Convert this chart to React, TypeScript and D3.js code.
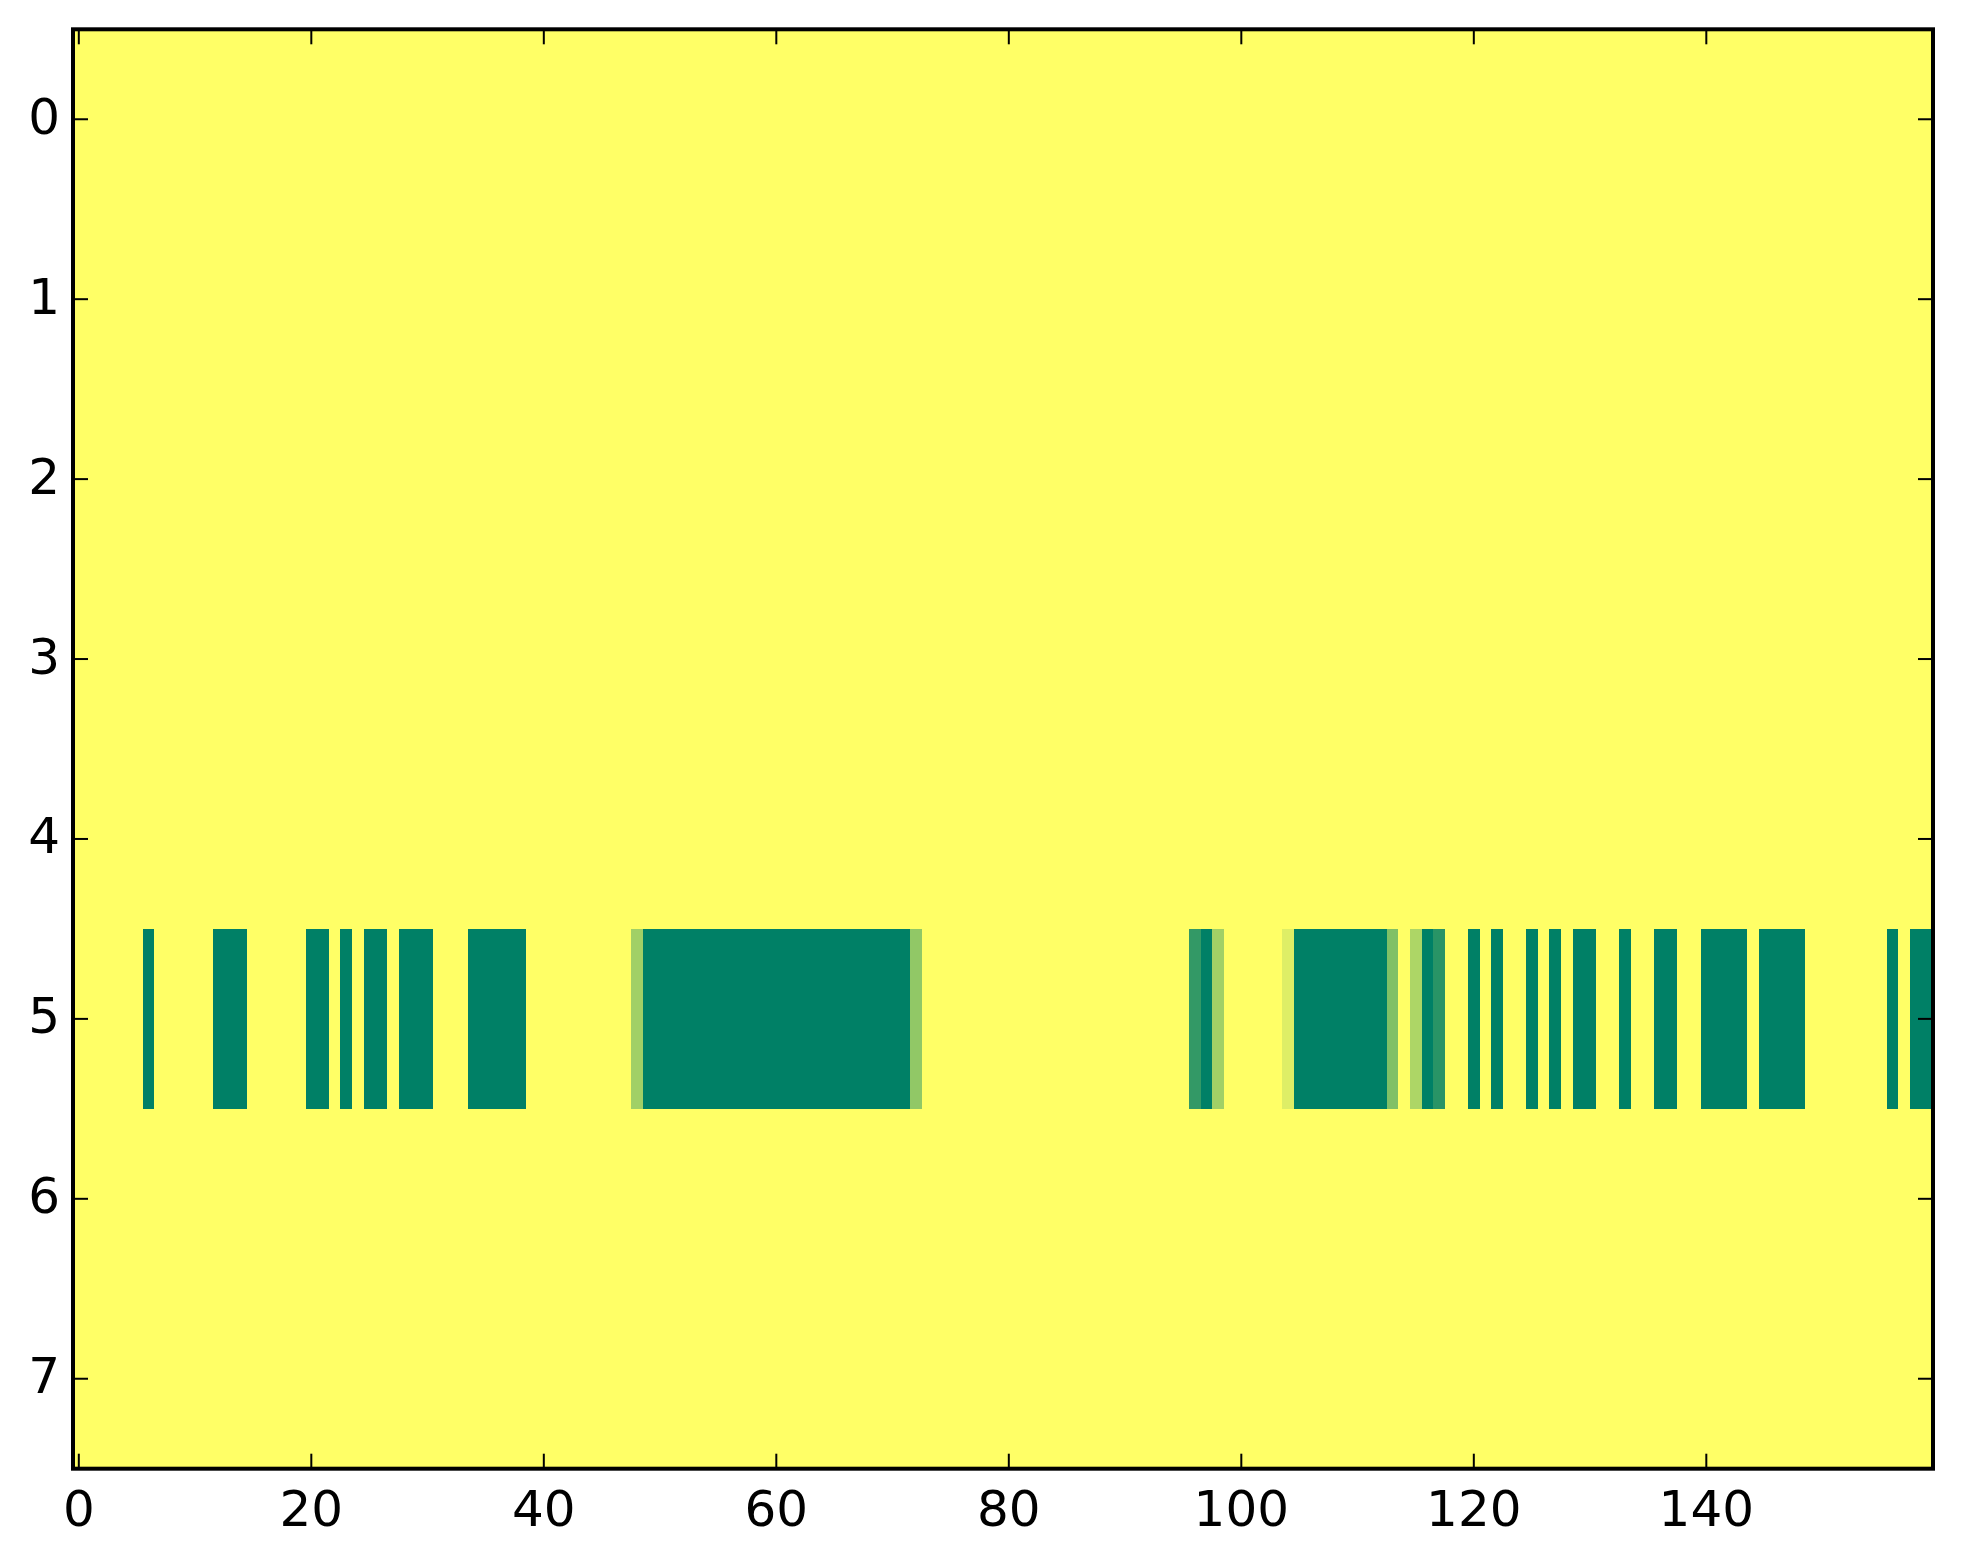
import { interpolateRgb, range, scaleLinear } from "d3";
import type { FC } from "react";

// image grid: 8 rows x 160 columns, values on a 0..1 scale
const nRows = 8;
const nCols = 160;

// row 5 is the only row that is not uniform
const row5 = [
  1, 1, 1, 1, 1, 1, 0, 1, 1, 1, 1, 1, 0, 0, 0, 1, 1, 1, 1, 1,
  0, 0, 1, 0, 1, 0, 0, 1, 0, 0, 0, 1, 1, 1, 0, 0, 0, 0, 0, 1,
  1, 1, 1, 1, 1, 1, 1, 1, 0.63, 0, 0, 0, 0, 0, 0, 0, 0, 0, 0, 0,
  0, 0, 0, 0, 0, 0, 0, 0, 0, 0, 0, 0, 0.57, 1, 1, 1, 1, 1, 1, 1,
  1, 1, 1, 1, 1, 1, 1, 1, 1, 1, 1, 1, 1, 1, 1, 1, 0.2, 0, 0.63, 1,
  1, 1, 1, 1, 0.87, 0, 0, 0, 0, 0, 0, 0, 0, 0.5, 1, 0.68, 0, 0.16, 1, 1,
  0, 1, 0, 1, 1, 0, 1, 0, 1, 0, 0, 1, 1, 0, 1, 1, 0, 0, 1, 1,
  0, 0, 0, 0, 1, 0, 0, 0, 0, 1, 1, 1, 1, 1, 1, 1, 0, 1, 0, 0,
];
// every other row reads as the top of the colour scale
const uniformValue = 1;

const xTicks = [0, 20, 40, 60, 80, 100, 120, 140];
const yTicks = [0, 1, 2, 3, 4, 5, 6, 7];

const W = 1963;
const H = 1564;
const left = 73;
const right = 1933;
const top = 29.3;
const bottom = 1468.7;

const font = "'DejaVu Sans', sans-serif";

const App: FC = () => {
  const x = scaleLinear().domain([-0.5, nCols - 0.5]).range([left, right]);
  const y = scaleLinear().domain([-0.5, nRows - 0.5]).range([top, bottom]);
  // matplotlib "summer": (v, 0.5 + v/2, 0.4)
  const color = scaleLinear<string>()
    .domain([0, 1])
    .range(["#008066", "#ffff66"])
    .interpolate(interpolateRgb);

  const grid = range(nRows).map((r) =>
    r === 5 ? row5 : range(nCols).map(() => uniformValue),
  );

  const tickLen = 15;

  return (
    <svg
      width={W}
      height={H}
      style={{ position: "absolute", left: 0, top: 0, background: "#fff" }}
    >
      {/* cells */}
      <g shapeRendering="crispEdges">
        {grid.flatMap((row, r) =>
          row.map((v, c) => (
            <rect
              key={`${r}-${c}`}
              x={x(c - 0.5)}
              y={y(r - 0.5)}
              width={x(c + 0.5) - x(c - 0.5) + 0.6}
              height={y(r + 0.5) - y(r - 0.5) + 0.6}
              fill={color(v)}
            />
          )),
        )}
      </g>

      {/* ticks, pointing inwards on all four sides */}
      <g stroke="#000" strokeWidth={2}>
        {xTicks.map((t) => (
          <g key={t}>
            <line x1={x(t)} x2={x(t)} y1={bottom} y2={bottom - tickLen} />
            <line x1={x(t)} x2={x(t)} y1={top} y2={top + tickLen} />
          </g>
        ))}
        {yTicks.map((t) => (
          <g key={t}>
            <line x1={left} x2={left + tickLen} y1={y(t)} y2={y(t)} />
            <line x1={right} x2={right - tickLen} y1={y(t)} y2={y(t)} />
          </g>
        ))}
      </g>

      {/* frame */}
      <rect
        x={left}
        y={top}
        width={right - left}
        height={bottom - top}
        fill="none"
        stroke="#000"
        strokeWidth={4}
      />

      {/* tick labels */}
      <g fontFamily={font} fontSize={50} fill="#000">
        {xTicks.map((t) => (
          <text key={t} x={x(t)} y={bottom + 57} textAnchor="middle">
            {t}
          </text>
        ))}
        {yTicks.map((t) => (
          <text key={t} x={left - 13} y={y(t) + 14.5} textAnchor="end">
            {t}
          </text>
        ))}
      </g>
    </svg>
  );
};

export default App;
